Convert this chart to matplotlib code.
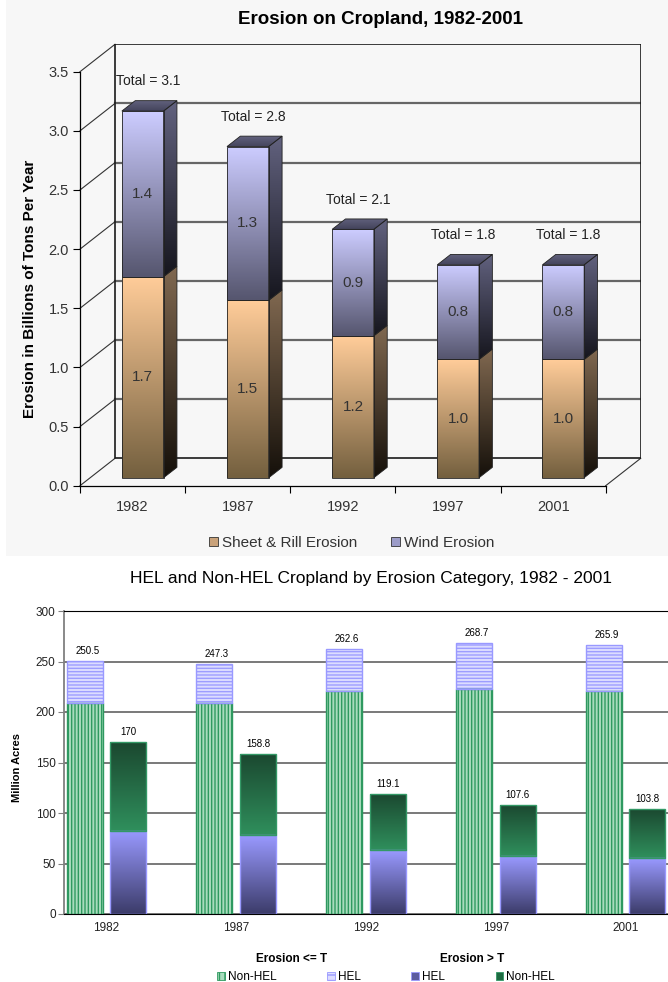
import numpy as np
import matplotlib
matplotlib.use('Agg')
import matplotlib.pyplot as plt
from matplotlib.patches import Polygon, Rectangle, Patch
from matplotlib.colors import to_rgb

years = ['1982', '1987', '1992', '1997', '2001']

# erosion, billions of tons per year
sheet_rill = [1.7, 1.5, 1.2, 1.0, 1.0]
wind = [1.4, 1.3, 0.9, 0.8, 0.8]

# cropland, million acres
low_nonhel = [209.1, 209.0, 221.0, 223.0, 220.3]   # erosion <= T
low_hel = [41.4, 38.3, 41.6, 45.7, 45.6]
high_hel = [82.6, 78.0, 63.2, 57.0, 55.0]          # erosion > T
high_nonhel = [87.4, 80.8, 55.9, 50.6, 48.8]

plt.rcParams['font.family'] = ['Liberation Sans', 'DejaVu Sans']
plt.rcParams['hatch.linewidth'] = 1.0

W, H = 668, 982
fig = plt.figure(figsize=(W / 100, H / 100), dpi=100)


def px(x0, y0, x1, y1):
    # pixel box (origin top-left) -> figure fraction rect
    return [x0 / W, 1 - y1 / H, (x1 - x0) / W, (y1 - y0) / H]


def shade(ax, verts, top, bot, z, edge='#222222', lw=0.6):
    # vertical gradient clipped to a polygon
    poly = Polygon(verts, closed=True, facecolor='none', edgecolor=edge, lw=lw, zorder=z + 0.1)
    ax.add_patch(poly)
    xs = [v[0] for v in verts]
    ys = [v[1] for v in verts]
    t = np.linspace(0, 1, 64)[:, None, None]
    img = np.array(to_rgb(top)) * (1 - t) + np.array(to_rgb(bot)) * t
    im = ax.imshow(img, extent=(min(xs), max(xs), min(ys), max(ys)), aspect='auto',
                   zorder=z, interpolation='bilinear')
    im.set_clip_path(poly)


def rect_verts(r):
    x0, y0 = r.get_x(), r.get_y()
    return [(x0, y0), (x0 + r.get_width(), y0), (x0 + r.get_width(), y0 + r.get_height()), (x0, y0 + r.get_height())]


# light panel behind the upper chart
fig.add_artist(Rectangle((6 / W, 1 - 556 / H), 1 - 6 / W, 556 / H, transform=fig.transFigure,
                         facecolor='#f7f7f7', edgecolor='none', zorder=0))

# ---------------- upper chart: pseudo 3-D stacked columns ----------------
DX, DY = 0.333, 0.2316          # depth of the plot box
ax = fig.add_axes(px(80, 44.3, 80 + 5.333 * 105.14, 485.7))
ax.set_xlim(0, 5 + DX)
ax.set_ylim(0, 3.5 + DY)
ax.patch.set_visible(False)
ax.spines['top'].set_visible(False)
ax.spines['right'].set_visible(False)
ax.spines['left'].set_bounds(0, 3.5)
ax.spines['bottom'].set_bounds(0, 5)
ax.spines['left'].set_linewidth(0.9)
ax.spines['bottom'].set_linewidth(0.9)

levels = np.arange(0, 3.51, 0.5)
for v in levels:
    ax.plot([0, DX], [v, v + DY], color='#333333', lw=0.8, zorder=1, clip_on=False)
    if 0 < v < 3.5:
        ax.plot([DX, 5 + DX], [v + DY, v + DY], color='#666666', lw=1.6, zorder=1)
ax.add_patch(Rectangle((DX, DY), 5, 3.5, fill=False, edgecolor='#1a1a1a', lw=1.2, zorder=1.5))
ax.plot([5, 5 + DX], [0, DY], color='#333333', lw=0.8, zorder=1, clip_on=False)

xpos = np.arange(5) + 0.5 + 0.29 * DX
base = 0.29 * DY
bw = 0.397
bdx, bdy = 0.127, 0.088

lower = ax.bar(xpos, sheet_rill, bw, bottom=base, color='none', zorder=3)
upper = ax.bar(xpos, wind, bw, bottom=np.array(sheet_rill) + base, color='none', zorder=3)

for r in lower:
    x0, y0 = r.get_x(), r.get_y()
    x1, y1 = x0 + r.get_width(), y0 + r.get_height()
    shade(ax, rect_verts(r), '#ffcc99', '#74603f', 3)
    shade(ax, [(x1, y0), (x1 + bdx, y0 + bdy), (x1 + bdx, y1 + bdy), (x1, y1)], '#806850', '#15100a', 3)
for r in upper:
    x0, y0 = r.get_x(), r.get_y()
    x1, y1 = x0 + r.get_width(), y0 + r.get_height()
    shade(ax, rect_verts(r), '#ccccff', '#56566f', 3)
    shade(ax, [(x1, y0), (x1 + bdx, y0 + bdy), (x1 + bdx, y1 + bdy), (x1, y1)], '#62627f', '#16161e', 3)
    shade(ax, [(x0, y1), (x1, y1), (x1 + bdx, y1 + bdy), (x0 + bdx, y1 + bdy)], '#62627e', '#44445c', 3)

for i in range(5):
    total = sheet_rill[i] + wind[i]
    ax.text(xpos[i], base + sheet_rill[i] / 2, f'{sheet_rill[i]:.1f}', ha='center', va='center',
            fontsize=11, color='#333333', zorder=5)
    ax.text(xpos[i], base + sheet_rill[i] + wind[i] / 2, f'{wind[i]:.1f}', ha='center', va='center',
            fontsize=11, color='#333333', zorder=5)
    ax.text(xpos[i] + 0.05, base + total + 0.25, f'Total = {total:.1f}', ha='center', va='center',
            fontsize=10, color='#222222', zorder=5)

ax.set_yticks(levels, [f'{v:.1f}' for v in levels])
ax.tick_params(axis='y', length=5, width=0.8, pad=3, labelsize=10.5, labelcolor='#333333')
ax.set_xticks(np.arange(6))
ax.set_xticks(np.arange(5) + 0.5, years, minor=True)
ax.tick_params(axis='x', which='major', length=5, width=0.8, labelbottom=False)
ax.tick_params(axis='x', which='minor', length=0, pad=10, labelsize=10.5, labelcolor='#333333')
ax.set_xlim(0, 5 + DX)
ax.set_ylim(0, 3.5 + DY)

fig.text(380 / W, 1 - 19 / H, 'Erosion on Cropland, 1982-2001', ha='center', va='center',
         fontsize=13.5, fontweight='bold')
fig.text(30 / W, 1 - 289 / H, 'Erosion in Billions of Tons Per Year', ha='center', va='center',
         rotation=90, fontsize=11, fontweight='bold')
fig.legend([Patch(facecolor='#c9a27a', edgecolor='#333333', lw=0.6),
            Patch(facecolor='#9c9cc8', edgecolor='#333333', lw=0.6)],
           ['Sheet & Rill Erosion', 'Wind Erosion'], loc='center',
           bbox_to_anchor=(352 / W, 1 - 542.7 / H), ncol=2, frameon=False, fontsize=11,
           handlelength=0.55, handleheight=0.55, handletextpad=0.3, columnspacing=2.2,
           labelcolor='#333333')

# ---------------- lower chart: HEL / non-HEL by erosion category ----------------
ax2 = fig.add_axes(px(64, 611, 668, 914))
ax2.set_xlim(-0.3267, 4.3267)
ax2.set_ylim(0, 300)
g = np.arange(5)
off, w = 0.168, 0.277

ax2.bar(g - off, low_nonhel, w, color='#a9dcbd', edgecolor='#2f9a60', hatch='|||||', lw=0, zorder=2)
ax2.bar(g - off, low_nonhel, w, fill=False, edgecolor='#2e9960', lw=1, zorder=3)
ax2.bar(g - off, low_hel, w, bottom=low_nonhel, color='#dcdcff', edgecolor='#9d9dff',
        hatch='-----', lw=0, zorder=2)
ax2.bar(g - off, low_hel, w, bottom=low_nonhel, fill=False, edgecolor='#9999ff', lw=1, zorder=3)

hb = ax2.bar(g + off, high_hel, w, color='none', zorder=2)
nb = ax2.bar(g + off, high_nonhel, w, bottom=high_hel, color='none', zorder=2)
for r in hb:
    shade(ax2, rect_verts(r), '#9999ff', '#3c3c6a', 2, edge='#9999ff', lw=1)
for r in nb:
    shade(ax2, rect_verts(r), '#1b4830', '#2f8f5c', 2, edge='#339966', lw=1)

for i in range(5):
    t1 = low_nonhel[i] + low_hel[i]
    t2 = high_hel[i] + high_nonhel[i]
    ax2.text(g[i] - off + 0.02, t1 + 10, f'{round(t1, 1):g}', ha='center', va='center', fontsize=7)
    ax2.text(g[i] + off, t2 + 10, f'{round(t2, 1):g}', ha='center', va='center', fontsize=7)

ax2.set_axisbelow(True)
ax2.yaxis.grid(True, color='#6e6e6e', lw=1.3)
ax2.spines['right'].set_visible(False)
ax2.spines['top'].set_color('black')
ax2.spines['bottom'].set_color('black')
ax2.spines['left'].set_color('#808080')
ax2.spines['left'].set_linewidth(1.3)
ax2.set_yticks(np.arange(0, 301, 50))
ax2.tick_params(axis='y', length=4, color='#808080', labelsize=8.5, pad=2, labelcolor='#222222')
ax2.set_xticks(g, years)
ax2.tick_params(axis='x', length=0, labelsize=8.5, pad=6, labelcolor='#222222')

fig.text(371 / W, 1 - 578 / H, 'HEL and Non-HEL Cropland by Erosion Category, 1982 - 2001',
         ha='center', va='center', fontsize=12.5)
fig.text(17 / W, 1 - 767 / H, 'Million Acres', ha='center', va='center', rotation=90,
         fontsize=8, fontweight='bold')
fig.text(292 / W, 1 - 958.7 / H, 'Erosion <= T', ha='center', va='center', fontsize=8.5, fontweight='bold')
fig.text(472 / W, 1 - 958.7 / H, 'Erosion > T', ha='center', va='center', fontsize=8.5, fontweight='bold')
fig.legend([Patch(facecolor='#a9dcbd', edgecolor='#2f9a60', hatch='|||', lw=0.6),
            Patch(facecolor='#dcdcff', edgecolor='#9999ff', hatch='---', lw=0.6),
            Patch(facecolor='#5c5ca0', edgecolor='#9999ff', lw=0.6),
            Patch(facecolor='#1f6b42', edgecolor='#339966', lw=0.6)],
           ['Non-HEL', 'HEL', 'HEL', 'Non-HEL'], loc='center',
           bbox_to_anchor=(386 / W, 1 - 977.5 / H), ncol=4, frameon=False, fontsize=8.5,
           handlelength=0.65, handleheight=0.65, handletextpad=0.25, columnspacing=4.3)

fig.savefig('out.png', dpi=100)
